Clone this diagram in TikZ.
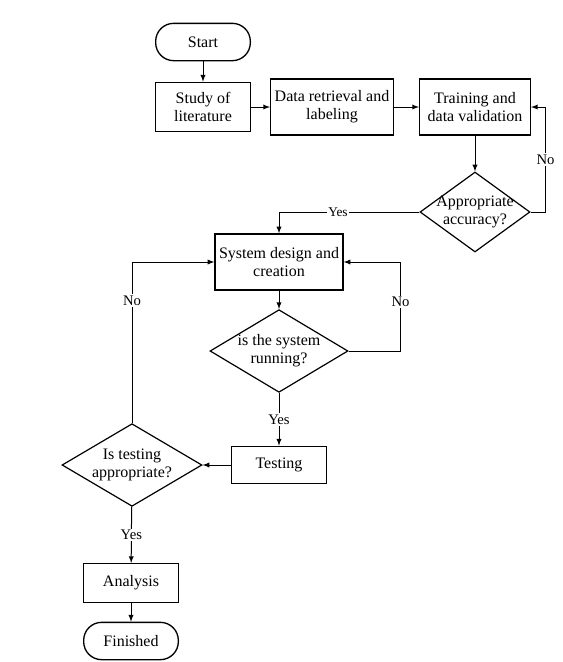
\documentclass[tikz,border=0pt]{standalone}
\usepackage{fontspec}
\setmainfont{Liberation Serif}
\usetikzlibrary{shapes, arrows, calc}

\begin{document}
\begin{tikzpicture}[
    x = 0.75pt, y = -0.75pt,
    line width = 0.75pt,
    >= latex,
    font = \fontsize{12}{13.5}\selectfont,
    process/.style = {rectangle,
      draw,
      line width = 1pt,
      align = center,
      inner sep = 0pt},
    terminal/.style = {process,
      rounded corners = 13.5pt,
      minimum width = 71pt,
      minimum height = 28pt},
    decision/.style = {diamond,
      draw,
      line width = 0.9pt,
      inner sep = 0pt},
    answer/.style = {fill = white,
      inner sep = 1pt,
      font = \fontsize{11}{12}\selectfont}
    ]
    \useasboundingbox (0, 0) rectangle (563, 662);

    \node at (203, 42) [terminal, name = start] {Start};
    \node at (203, 107) [process, name = study,
      minimum width = 71pt, minimum height = 37pt] {Study of\\literature};
    \node at (332, 107) [process, name = retrieval,
      minimum width = 92pt, minimum height = 42pt] {Data retrieval and\\labeling};
    \node at (475, 107) [process, name = training,
      minimum width = 83pt, minimum height = 42pt] {Training and\\data validation};
    \node at (475, 212) [decision, name = accuracy,
      minimum width = 82.5pt, minimum height = 60pt,
      label = {[align = center]center:Appropriate\\accuracy?}] {};
    \node at (279, 262) [process, name = design,
      minimum width = 96pt, minimum height = 42pt] {System design and\\creation};
    \node at (279, 351) [decision, name = running,
      minimum width = 103.5pt, minimum height = 62pt,
      label = {[align = center]center:is the system\\running?}] {};
    \node at (279, 465) [process, name = testing,
      minimum width = 71pt, minimum height = 28pt] {Testing};
    \node at (132, 465) [decision, name = decide,
      minimum width = 105pt, minimum height = 62pt,
      label = {[align = center]center:Is testing\\appropriate?}] {};
    \node at (131, 583) [process, name = analysis,
      minimum width = 71pt, minimum height = 29pt] {Analysis};
    \node at (131, 641) [terminal, name = finished] {Finished};

    \draw [->] (start) to (study);
    \draw [->] (study) to (retrieval);
    \draw [->] (retrieval) to (training);
    \draw [->] (training) to (accuracy);
    \draw [->] (accuracy.east) -- ++(15, 0)
      |- node [answer, pos = 0.25] {No} (training.east);
    \draw [->] (accuracy.west) -|
      node [answer, pos = 0.29, font = \fontsize{10}{11}\selectfont] {Yes} (design.north);

    \draw [->] (design) to (running);
    \draw [->] (running.east) -- ++(52, 0)
      |- node [answer, pos = 0.275] {No} (design.east);
    \draw [->] (running) to node [answer] {Yes} (testing);
    \draw [->] (testing) to (decide);
    \draw [->] (decide.north) |- node [answer, pos = 0.38] {No} (design.west);
    \draw [->] (decide) to node [answer] {Yes} (analysis);
    \draw [->] (analysis) to (finished);

  \end{tikzpicture}
\end{document}
